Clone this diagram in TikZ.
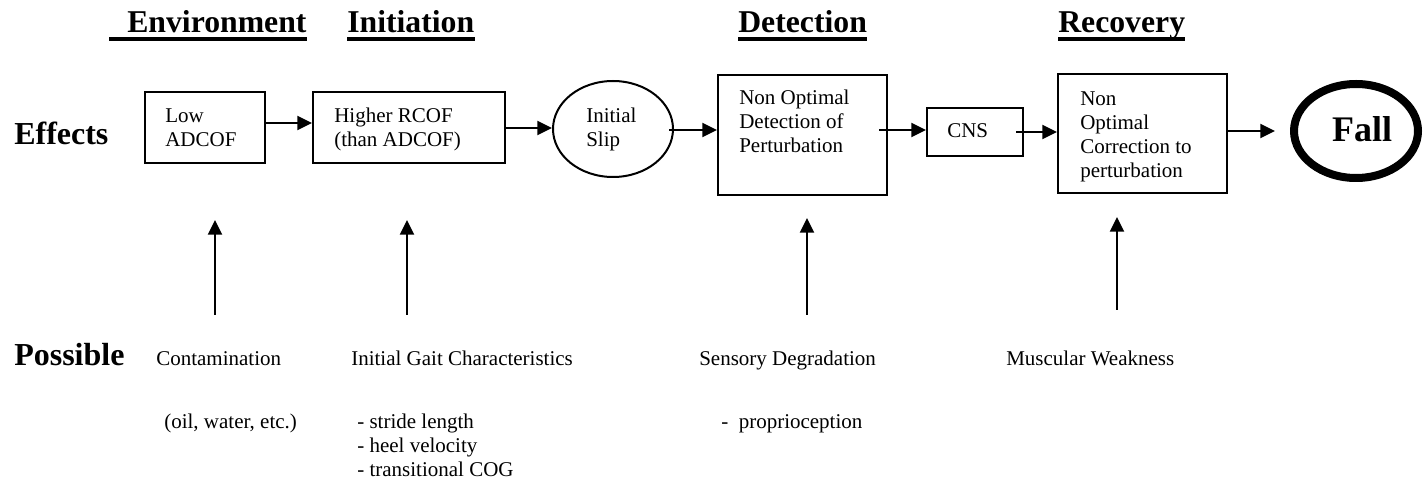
\documentclass[tikz,border=0pt]{standalone}
\usepackage{fontspec}
\setmainfont{Liberation Serif}
\usetikzlibrary{arrows.meta,shapes.geometric,calc}
\begin{document}
\begin{tikzpicture}[x=0.75pt,y=-0.75pt,
  box/.style={draw, line width=1.5pt, inner sep=0pt, rectangle},
  oval/.style={draw, line width=1.5pt, inner sep=0pt, ellipse},
  txt/.style={inner sep=0pt, anchor=base west, align=left, font=\fontsize{15.75}{18}\selectfont},
  ttl/.style={inner sep=0pt, anchor=base west, font=\bfseries\fontsize{23.8}{28}\selectfont},
  rowlabel/.style={inner sep=0pt, anchor=base west, font=\bfseries\fontsize{24}{28}\selectfont},
  uline/.style={line width=3pt},
  arr/.style={line width=1.5pt, -{Triangle[length=11pt,width=10.5pt]}}]
\useasboundingbox (0,0) rectangle (1427,484);

% titles
\node[ttl] (tenv) at (127,33) {Environment};
\node[ttl] (tini) at (347,33) {Initiation};
\node[ttl] (tdet) at (738,33) {Detection};
\node[ttl] (trec) at (1058,33) {Recovery};
\draw[uline] ($(tenv.base west)+(-18,6)$) -- ($(tenv.base east)+(0,6)$);
\draw[uline] ($(tini.base west)+(0,6)$) -- ($(tini.base east)+(0,6)$);
\draw[uline] ($(tdet.base west)+(0,6)$) -- ($(tdet.base east)+(0,6)$);
\draw[uline] ($(trec.base west)+(0,6)$) -- ($(trec.base east)+(0,6)$);

% row labels
\node[rowlabel] (eff) at (14,145) {Effects};
\node[rowlabel] (pos) at (14,365) {Possible};

% boxes
\node[box, minimum width=90pt, minimum height=53.25pt] (low) at (205,127.5) {};
\node[box, minimum width=144pt, minimum height=53.25pt] (high) at (409,127.5) {};
\node[oval, minimum width=90pt, minimum height=72pt] (slip) at (613,129) {};
\node[box, minimum width=126.75pt, minimum height=90pt] (det) at (802.5,135) {};
\node[box, minimum width=72pt, minimum height=36pt] (cns) at (975,132) {};
\node[box, minimum width=126.75pt, minimum height=89.25pt] (rec) at (1142.5,133.5) {};
\node[draw, ellipse, line width=6pt, inner sep=0pt, minimum width=93pt, minimum height=70.5pt] (fall) at (1356,131) {};

% box texts (anchor at baseline of last line)
\node[txt] (lowt) at (165,147) {Low\\ADCOF};
\node[txt] (hight) at (334,147) {Higher RCOF\\(than ADCOF)};
\node[txt] (slipt) at (586,147) {Initial\\Slip};
\node[txt] (dett) at (739,153) {Non Optimal\\Detection of\\Perturbation};
\node[txt] (cnst) at (947,138) {CNS};
\node[txt] (rect) at (1080,178) {Non\\Optimal\\Correction to\\perturbation};
\node[inner sep=0pt, anchor=base, font=\bfseries\fontsize{27}{30}\selectfont] (fallt) at (1362,142) {Fall};

% horizontal arrows
\draw[arr] (low.east |- 0,123) -- (high.west |- 0,123);
\draw[arr] (high.east |- 0,128) -- (slip.west |- 0,128);
\draw[arr] ($(slip.east)+(-5,1)$) -- (det.west |- 0,130);
\draw[arr] ($(det.east)+(-9,-5)$) -- (cns.west |- 0,130);
\draw[arr] ($(cns.east)+(-8,0)$) -- (rec.west |- 0,132);
\draw[arr] (rec.east |- 0,131) -- ($(fall.west)+(-15,0)$);

% causes
\node[txt] (b1) at (156,365) {Contamination};
\node[txt] (b2) at (351,365) {Initial Gait Characteristics};
\node[txt] (b3) at (699,365) {Sensory Degradation};
\node[txt] (b4) at (1006,365) {Muscular Weakness};
\node[txt] (c1) at (164,428) {(oil, water, etc.)};
\node[txt] (c2) at (357,476) {- stride length\\- heel velocity\\- transitional COG};
\node[txt] (c3) at (721,428) {-\ \ proprioception};

% vertical arrows
\coordinate (v1b) at (215,315); \coordinate (v1t) at (215,220);
\coordinate (v2b) at (407,315); \coordinate (v2t) at (407,220);
\coordinate (v3b) at (807,315); \coordinate (v3t) at (807,218);
\coordinate (v4b) at (1117,310); \coordinate (v4t) at (1117,217);
\draw[arr] (v1b) -- (v1t);
\draw[arr] (v2b) -- (v2t);
\draw[arr] (v3b) -- (v3t);
\draw[arr] (v4b) -- (v4t);
\end{tikzpicture}
\end{document}
